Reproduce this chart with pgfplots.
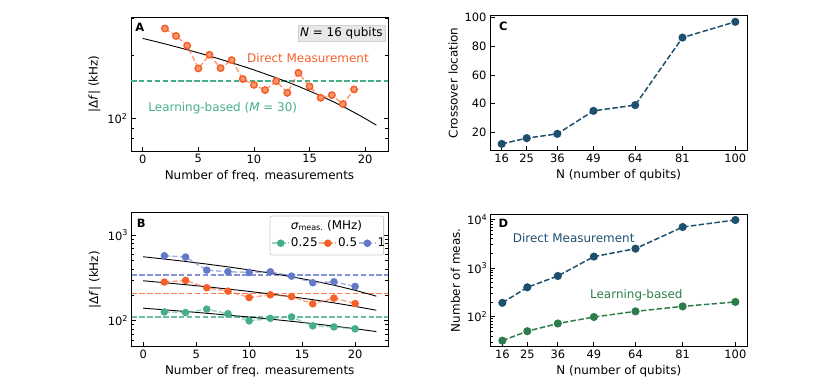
\documentclass[border=0pt]{standalone}
\usepackage{fontspec}
\setmainfont{DejaVu Sans}
\usepackage{pgfplots}
\pgfplotsset{compat=1.18}

\definecolor{dmorange}{RGB}{245,95,40}
\definecolor{lgreen}{RGB}{70,175,135}
\definecolor{bblue}{RGB}{100,122,200}
\definecolor{dblue}{RGB}{30,80,110}
\definecolor{dgreen}{RGB}{45,125,75}

\newcommand{\fs}{\fontsize{12}{14}\selectfont}
\newcommand{\fst}{\fontsize{11.5}{13}\selectfont}
\newcommand{\fsl}{\fontsize{11.5}{13}\selectfont\bfseries}

\pgfplotsset{
  base/.style={
    scale only axis,
    axis line style={line width=0.9bp},
    every tick/.style={black, line width=0.8bp},
    major tick length=4.5bp, minor tick length=2.6bp,
    tick align=inside,
    /pgf/number format/assume math mode=true,
    tick label style={font=\fst},
    label style={font=\fs},
    xtick pos=left,
  },
  dline/.style={line width=1.5bp, dash pattern=on 5.5bp off 2.4bp},
}

\begin{document}
\begin{tikzpicture}
\useasboundingbox (0,0) rectangle (830bp,388bp);

% ---------------- Panel A ----------------
\begin{axis}[base, at={(131bp,371bp)}, anchor=north west,
  width=257bp, height=134bp, ymode=log,
  xmin=-1.05, xmax=22.05, ymin=70, ymax=304,
  xtick={0,5,10,15,20}, ytick={100}, yticklabels={10\textsuperscript{2}},
  minor ytick={70,80,90,200,300}, ytick pos=both,
  xlabel={Number of freq. measurements}, ylabel={|Δ\textit{f}| (kHz)}]
\addplot[lgreen, dline, forget plot] coordinates {(-1.05,151) (22.05,151)};
\addplot[black, line width=0.9bp, forget plot] coordinates {
(0,240.4)(1,233.4)(2,226.4)(3,219.3)(4,212.3)(5,205.3)(6,198.3)(7,191.2)
(8,184.2)(9,177.2)(10,170.2)(11,163.1)(12,156.1)(13,149.1)(14,142.1)(15,135.0)
(16,128.0)(17,121.0)(18,114.0)(19,106.9)(20,99.9)(21,92.9)};
\addplot[dmorange, dline, draw opacity=0.6, mark=*, mark size=3.2bp,
  mark options={solid, draw opacity=1, draw=dmorange, fill=dmorange!65!white}] coordinates {
(2,268)(3,247)(4,222)(5,173)(6,201)(7,173.6)(8,189.5)(9,154)(10,144.5)
(11,136.4)(12,150.5)(13,132.4)(14,164.9)(15,142)(16,125.4)(17,129.1)(18,117)(19,137.4)};
\node[text=dmorange, font=\fs] at (axis cs:14.85,194) {Direct Measurement};
\node[text=lgreen, font=\fs] at (axis cs:7.2,112) {Learning-based (\textit{M} = 30)};
\node[anchor=north east, fill=gray!18, draw=gray!35, font=\fs, inner sep=2bp]
  at (rel axis cs:0.988,0.94) {\textit{N} = 16 qubits};
\node[anchor=north west, font=\fsl, inner sep=0pt] at (rel axis cs:0.016,0.955) {A};
\end{axis}

% ---------------- Panel B ----------------
\begin{axis}[base, at={(131.5bp,175.3bp)}, anchor=north west,
  width=256.5bp, height=134bp, ymode=log,
  xmin=-1.1, xmax=23.1, ymin=50, ymax=1820,
  xtick={0,5,10,15,20}, ytick={100,1000},
  yticklabels={10\textsuperscript{2},10\textsuperscript{3}},
  minor ytick={50,60,70,80,90,200,300,400,500,600,700,800,900}, ytick pos=both,
  xlabel={Number of freq. measurements}, ylabel={|Δ\textit{f}| (kHz)},
  legend columns=3,
  legend style={at={(0.545,0.772)}, anchor=west, draw=none, fill=none,
    font=\fs, inner sep=0pt, nodes={inner sep=1bp},
    /tikz/every even column/.append style={column sep=0bp}},
  legend image code/.code={\draw[mark repeat=2,mark phase=2]
    plot coordinates {(0bp,0bp) (8.5bp,0bp) (17bp,0bp)};}]
\addplot[bblue, dline, draw opacity=0.8, forget plot] coordinates {(-1.1,344) (23.1,344)};
\addplot[dmorange, dline, draw opacity=0.8, forget plot] coordinates {(-1.1,207) (23.1,207)};
\addplot[lgreen, dline, draw opacity=0.8, forget plot] coordinates {(-1.1,111) (23.1,111)};
\addplot[black, line width=0.9bp, forget plot] coordinates {
(0,558)(2,524.9)(4,491.8)(6,458.7)(8,425.6)(10,392.5)(12,359.5)(14,326.4)
(16,293.3)(18,260.2)(20,227.1)(22,194)};
\addplot[black, line width=0.9bp, forget plot] coordinates {
(0,293)(2,278.5)(4,263.9)(6,249.4)(8,234.8)(10,220.3)(12,205.7)(14,191.2)
(16,176.6)(18,162.1)(20,147.5)(22,133)};
\addplot[black, line width=0.9bp, forget plot] coordinates {
(0,140.5)(2,134.5)(4,128.6)(6,122.6)(8,116.7)(10,110.7)(12,104.8)(14,98.8)
(16,92.9)(18,86.9)(20,81.0)(22,75)};
\addplot[lgreen, dline, draw opacity=0.55, mark=*, mark size=3bp,
  mark options={solid, draw opacity=1, fill=lgreen}] coordinates {
(2,127)(4,125)(6,137)(8,121)(10,100)(12,107)(14,111)(16,87.5)(18,85)(20,80.7)};
\addlegendentry{0.25}
\addplot[dmorange, dline, draw opacity=0.55, mark=*, mark size=3bp,
  mark options={solid, draw opacity=1, fill=dmorange}] coordinates {
(2,283)(4,296)(6,243)(8,222)(10,187)(12,201)(14,192)(16,158)(18,184)(20,159)};
\addlegendentry{0.5}
\addplot[bblue, dline, draw opacity=0.55, mark=*, mark size=3bp,
  mark options={solid, draw opacity=1, fill=bblue}] coordinates {
(2,574)(4,554)(6,390)(8,373)(10,367)(12,373)(14,332)(16,278)(18,285)(20,252)};
\addlegendentry{1}
\draw[gray!40, fill=white, fill opacity=0.8, rounded corners=2bp, line width=0.8bp]
  (rel axis cs:0.54,0.684) rectangle (rel axis cs:0.983,0.975);
\node[font=\fs] at (rel axis cs:0.76,0.905) {\textit{σ}\textsubscript{meas.} (MHz)};
\node[anchor=north west, font=\fsl, inner sep=0pt] at (rel axis cs:0.02,0.955) {B};
\end{axis}

% ---------------- Panel C ----------------
\begin{axis}[base, at={(490bp,372.3bp)}, anchor=north west,
  width=257bp, height=134.3bp,
  xmin=11.8, xmax=104.2, ymin=7.75, ymax=101.25,
  xtick={16,25,36,49,64,81,100}, ytick={20,40,60,80,100}, ytick pos=left,
  xlabel={N (number of qubits)}, ylabel={Crossover location}]
\addplot[dblue, dline, mark=*, mark size=3.3bp, mark options={solid, fill=dblue}] coordinates {
(16,12)(25,16)(36,19)(49,35)(64,39)(81,86)(100,97)};
\node[anchor=north west, font=\fsl, inner sep=0pt] at (rel axis cs:0.035,0.955) {C};
\end{axis}

% ---------------- Panel D ----------------
\begin{axis}[base, at={(490.7bp,174bp)}, anchor=north west,
  width=256.3bp, height=132.7bp, ymode=log,
  xmin=11.8, xmax=104.2, ymin=24, ymax=12900,
  xtick={16,25,36,49,64,81,100}, ytick={100,1000,10000},
  yticklabels={10\textsuperscript{2},10\textsuperscript{3},10\textsuperscript{4}},
  minor ytick={30,40,50,60,70,80,90,200,300,400,500,600,700,800,900,2000,3000,4000,5000,6000,7000,8000,9000},
  ytick pos=left,
  xlabel={N (number of qubits)}, ylabel={Number of meas.}]
\addplot[dblue, dline, mark=*, mark size=3.3bp, mark options={solid, fill=dblue}] coordinates {
(16,192)(25,400)(36,684)(49,1715)(64,2496)(81,6966)(100,9700)};
\addplot[dgreen, dline, mark=*, mark size=3.3bp, mark options={solid, fill=dgreen}] coordinates {
(16,32)(25,50)(36,72)(49,98)(64,128)(81,162)(100,200)};
\node[text=dblue, font=\fs] at (axis cs:41.7,4150) {Direct Measurement};
\node[text=dgreen, font=\fs] at (axis cs:64.3,272) {Learning-based};
\node[anchor=north west, font=\fsl, inner sep=0pt] at (rel axis cs:0.03,0.96) {D};
\end{axis}
\end{tikzpicture}
\end{document}
